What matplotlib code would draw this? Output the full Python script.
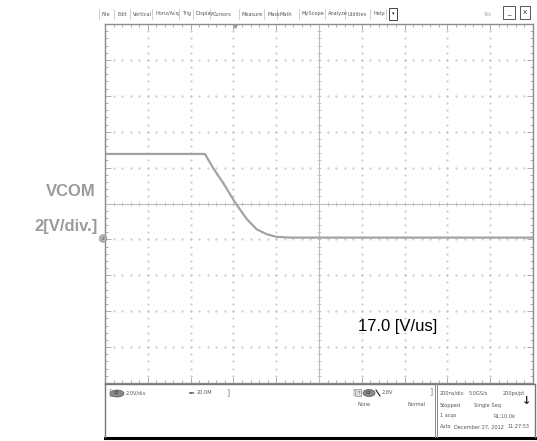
import numpy as np
import matplotlib.pyplot as plt
from matplotlib.patches import Rectangle, Ellipse, Circle

# VCOM waveform (time in ns, level in V)
t_ns = [-1000, -533, -494, -447, -393, -338, -291, -245, -198, -136, 1000]
vcom = [4.68, 4.68, 3.88, 3.05, 1.99, 1.06, 0.48, 0.21, 0.06, 0.02, 0.02]

ns_per_div = 200
v_per_div = 2
ground_div = -0.96          # channel 2 offset, in divisions
slew_label = '17.0 [V/us]'

menu_items = ['File', 'Edit', 'Vertical', 'Horiz/Acq', 'Trig', 'Display', 'Cursors',
              'Measure', 'Mask', 'Math', 'MyScope', 'Analyze', 'Utilities', 'Help']
menu_x = [102, 117, 133, 155, 182, 196, 213, 242, 267, 280, 302, 328, 348, 373]

W, H = 537, 441
fig = plt.figure(figsize=(W / 100, H / 100), dpi=100)
fig.patch.set_facecolor('white')

# graticule area in pixels
gx0, gx1, gy0, gy1 = 105, 533, 24, 383
ax = fig.add_axes([gx0 / W, 1 - gy1 / H, (gx1 - gx0) / W, (gy1 - gy0) / H])
xmin, xmax = -5 * ns_per_div, 5 * ns_per_div
ymin, ymax = (-5 - ground_div) * v_per_div, (5 - ground_div) * v_per_div
ax.set_xlim(xmin, xmax)
ax.set_ylim(ymin, ymax)

grid_c = '#c4c4c4'
xs_major = xmin + ns_per_div * np.arange(11)
ys_major = ymin + v_per_div * np.arange(11)
xs_minor = xmin + ns_per_div * np.arange(0, 10.01, 0.2)
ys_minor = ymin + v_per_div * np.arange(0, 10.01, 0.2)

# dotted grid
for k in range(1, 10):
    if k == 5:
        continue
    ax.plot(xs_minor, np.full_like(xs_minor, ys_major[k]), ls='none', marker='.',
            ms=1.0, color=grid_c)
    ax.plot(np.full_like(ys_minor, xs_major[k]), ys_minor, ls='none', marker='.',
            ms=1.0, color=grid_c)

# centre cross with ticks
xc = xs_major[5]
yc = ys_major[5]
ax.axhline(yc, color='#bdbdbd', lw=0.8)
ax.axvline(xc, color='#bdbdbd', lw=0.8)
ax.plot(xs_minor, np.full_like(xs_minor, yc), ls='none', marker='|', ms=3.5,
        mew=0.6, color='#bdbdbd')
ax.plot(np.full_like(ys_minor, xc), ys_minor, ls='none', marker='_', ms=3.5,
        mew=0.6, color='#bdbdbd')

# border ticks
ax.set_xticks(xs_major)
ax.set_yticks(ys_major)
ax.set_xticks(xs_minor, minor=True)
ax.set_yticks(ys_minor, minor=True)
ax.tick_params(which='both', direction='in', top=True, right=True,
               labelbottom=False, labelleft=False, color='#a0a0a0', width=0.6)
ax.tick_params(which='major', length=4)
ax.tick_params(which='minor', length=2)
for s in ax.spines.values():
    s.set_color('#8c8c8c')
    s.set_linewidth(1.0)

# trace
ax.plot(t_ns, vcom, color='#a3a3a3', lw=1.6, solid_joinstyle='round')

# overlay in pixel coordinates for the screen furniture
ov = fig.add_axes([0, 0, 1, 1])
ov.set_xlim(0, W)
ov.set_ylim(H, 0)
ov.axis('off')
ov.patch.set_alpha(0)

small = dict(fontsize=3.6, color='#555555', va='center', family='DejaVu Sans')

# menu bar
for name, x in zip(menu_items, menu_x):
    ov.text(x, 14, name, ha='left', **small)
    ov.plot([x - 3, x - 3], [9, 19], color='#c8c8c8', lw=0.6)
ov.plot([386, 386], [9, 19], color='#c8c8c8', lw=0.6)
ov.add_patch(Rectangle((389, 8), 8, 12, fill=False, ec='#444444', lw=0.7))
ov.text(393, 14, '▾', ha='center', **{**small, 'color': '#222222'})
ov.text(483, 14, 'Tek', ha='left', **{**small, 'color': '#aaaaaa'})
ov.add_patch(Rectangle((503, 6), 12, 13, fill=False, ec='#555555', lw=0.7))
ov.text(509, 13, '_', ha='center', **{**small, 'fontsize': 5, 'color': '#222222'})
ov.add_patch(Rectangle((520, 6), 10, 13, fill=False, ec='#555555', lw=0.7))
ov.text(525, 13, 'X', ha='center', **{**small, 'fontsize': 4.5, 'color': '#222222'})

# trigger position marker on top border
ov.plot([235], [25.5], marker='v', ms=2.5, color='#999999')

# channel 2 ground marker
ov.add_patch(Circle((103, 238.5), 3.8, fc='#b0b0b0', ec='#999999', lw=0.5))
ov.text(103, 238.5, '2', ha='center', va='center', fontsize=3.2, color='#444444')

# labels
lab = dict(fontsize=12, fontweight='bold', color='#9b9b9b', ha='right', va='center',
           family='Liberation Sans')
ov.text(96, 192, 'VCOM', **lab)
ov.text(98, 227, '2[V/div.]', **lab)
ov.text(358, 327, slew_label, fontsize=12, color='black', ha='left', va='center',
        family='Liberation Sans')

# bottom status panel
ov.plot([105, 535], [384, 384], color='#777777', lw=1.0)
ov.plot([105, 535], [437.5, 437.5], color='black', lw=2.2)
ov.plot([105, 105], [384, 437], color='#777777', lw=1.0)
ov.plot([535, 535], [384, 437], color='#777777', lw=1.0)
ov.plot([434.5, 434.5], [384, 437], color='#888888', lw=0.7)
ov.plot([436.5, 436.5], [384, 437], color='#888888', lw=0.7)

ov.text(108, 393, '[', ha='left', **{**small, 'fontsize': 6, 'color': '#888888'})
ov.add_patch(Ellipse((117, 393.5), 14, 7, fc='#8a8a8a', ec='#555555', lw=0.5))
ov.text(117, 393.5, 'C2', ha='center', **{**small, 'fontsize': 3, 'color': '#222222'})
ov.text(126, 393, '2.0V/div', ha='left', **small)
ov.text(189, 393, 'ʙw', ha='left', **{**small, 'fontsize': 3, 'fontweight': 'bold'})
ov.text(197, 393, '20.0M', ha='left', **small)
ov.text(226, 393, ']', ha='left', **{**small, 'fontsize': 6, 'color': '#888888'})

ov.text(352, 392, '[', ha='left', **{**small, 'fontsize': 5, 'color': '#888888'})
ov.add_patch(Rectangle((355, 389), 6, 7, fc='#dddddd', ec='#777777', lw=0.4))
ov.text(358, 392.5, 'T', ha='center', **{**small, 'fontsize': 3})
ov.add_patch(Ellipse((369, 393), 12, 7, fc='#8a8a8a', ec='#555555', lw=0.5))
ov.text(369, 393, 'C2', ha='center', **{**small, 'fontsize': 3, 'color': '#222222'})
ov.plot([376, 380], [390, 396], color='#222222', lw=0.8)
ov.text(382, 392, '2.8V', ha='left', **small)
ov.text(358, 405, 'None', ha='left', **small)
ov.text(408, 405, 'Normal', ha='left', **small)
ov.text(429, 392, ']', ha='left', **{**small, 'fontsize': 6, 'color': '#888888'})

ov.text(440, 393, '200ns/div', ha='left', **small)
ov.text(469, 393, '5.0GS/s', ha='left', **small)
ov.text(503, 393, '200ps/pt', ha='left', **small)
ov.text(440, 405, 'Stopped', ha='left', **small)
ov.text(474, 405, 'Single Seq', ha='left', **small)
ov.text(440, 416, '1 acqs', ha='left', **small)
ov.text(494, 416, 'RL:10.0k', ha='left', **small)
ov.text(440, 427, 'Auto', ha='left', **small)
ov.text(454, 427, 'December 27, 2012', ha='left', **small)
ov.text(507, 427, '11:27:53', ha='left', **small)
ov.text(527, 401, '↓', ha='center', va='center', fontsize=8, fontweight='bold',
        color='#222222')

fig.savefig('out.png', dpi=100, facecolor='white')
